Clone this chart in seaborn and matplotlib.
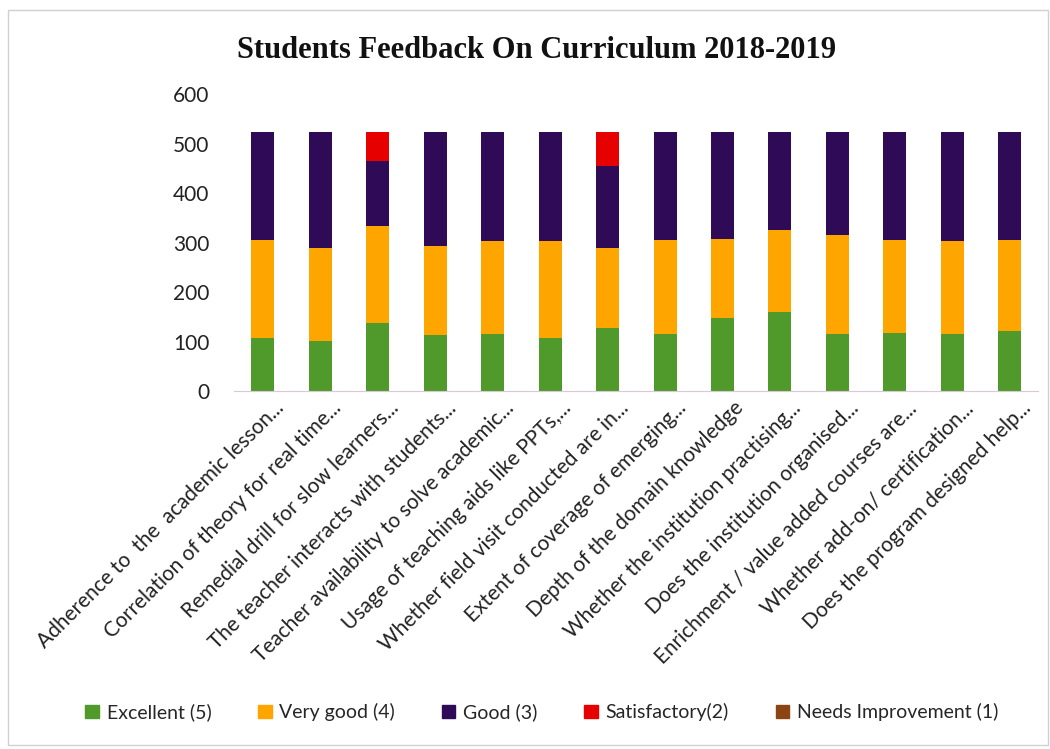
import matplotlib
matplotlib.use("Agg")
import matplotlib.pyplot as plt
import matplotlib.patches as mpatches
import matplotlib.transforms as mtransforms
import seaborn as sns
import pandas as pd

# kategorie (etykiety osi x)
questions = [
    "Adherence to  the  academic lesson...",
    "Correlation of theory for real time...",
    "Remedial drill for slow learners...",
    "The teacher interacts with students...",
    "Teacher availability to solve academic...",
    "Usage of teaching aids like PPTs,...",
    "Whether field visit conducted are in...",
    "Extent of coverage of emerging...",
    "Depth of the domain knowledge",
    "Whether the institution practising...",
    "Does the institution organised...",
    "Enrichment / value added courses are...",
    "Whether add-on/ certification...",
    "Does the program designed help...",
]
excellent = [108, 102, 137, 113, 115, 108, 127, 115, 147, 159, 116, 117, 115, 122]
very_good = [197, 187, 197, 181, 189, 195, 162, 190, 160, 166, 200, 188, 189, 183]
good = [219, 235, 132, 230, 220, 221, 166, 219, 217, 199, 208, 219, 220, 219]
satisfactory = [0, 0, 58, 0, 0, 0, 69, 0, 0, 0, 0, 0, 0, 0]
needs_impr = [0] * 14

series = [
    ("Excellent (5)", excellent, "#4f9a2a"),
    ("Very good (4)", very_good, "#ffa500"),
    ("Good (3)", good, "#2f0b57"),
    ("Satisfactory(2)", satisfactory, "#e60000"),
    ("Needs Improvement (1)", needs_impr, "#8b4513"),
]

sns.set_style("white")
plt.rcParams['font.family'] = ['Lato', 'DejaVu Sans']

fig = plt.figure(figsize=(10.5, 7.49), dpi=100)
ax = fig.add_axes([0.223, 0.478, 0.766, 0.396])

bottom = [0] * len(questions)
handles = []
for name, vals, col in series:
    df = pd.DataFrame({"q": questions, "v": vals})
    sns.barplot(data=df, x="q", y="v", color=col, width=0.4, bottom=bottom,
                ax=ax, saturation=1, linewidth=0)
    bottom = [b + v for b, v in zip(bottom, vals)]
    handles.append(mpatches.Patch(color=col, label=name))

ax.set_xlim(-0.5, 13.5)
ax.set_ylim(0, 600)
ax.set_yticks(range(0, 601, 100))
ax.set_xlabel("")
ax.set_ylabel("")
sns.despine(ax=ax, left=True)
ax.spines['bottom'].set_color("#d9c8d8")
ax.tick_params(axis='y', labelsize=15, colors="#222222", length=0, pad=18)
ax.tick_params(axis='x', length=0, pad=5)
ax.set_xticks(range(len(questions)))
ax.set_xticklabels(questions, rotation=45, ha='right', va='top', rotation_mode='anchor',
                   fontsize=15, color="#222222")
shift = mtransforms.ScaledTranslation(8 / 72, 0, fig.dpi_scale_trans)
for lbl in ax.get_xticklabels():
    lbl.set_transform(lbl.get_transform() + shift)

fig.text(0.511, 0.933, "Students Feedback On Curriculum 2018-2019",
         ha='center', va='center', fontsize=22, fontweight='bold',
         family='Liberation Serif', color="#111111")

fig.legend(handles=handles, loc='center', bbox_to_anchor=(0.516, 0.049), ncol=5,
           frameon=False, fontsize=14, handlelength=0.7, handleheight=0.7,
           columnspacing=2.4, handletextpad=0.4)

fig.patches.append(mpatches.Rectangle((0.008, 0.006), 0.99, 0.98, transform=fig.transFigure,
                                      fill=False, edgecolor="#d0d0d0", linewidth=1))

fig.savefig("out.png", dpi=100)
